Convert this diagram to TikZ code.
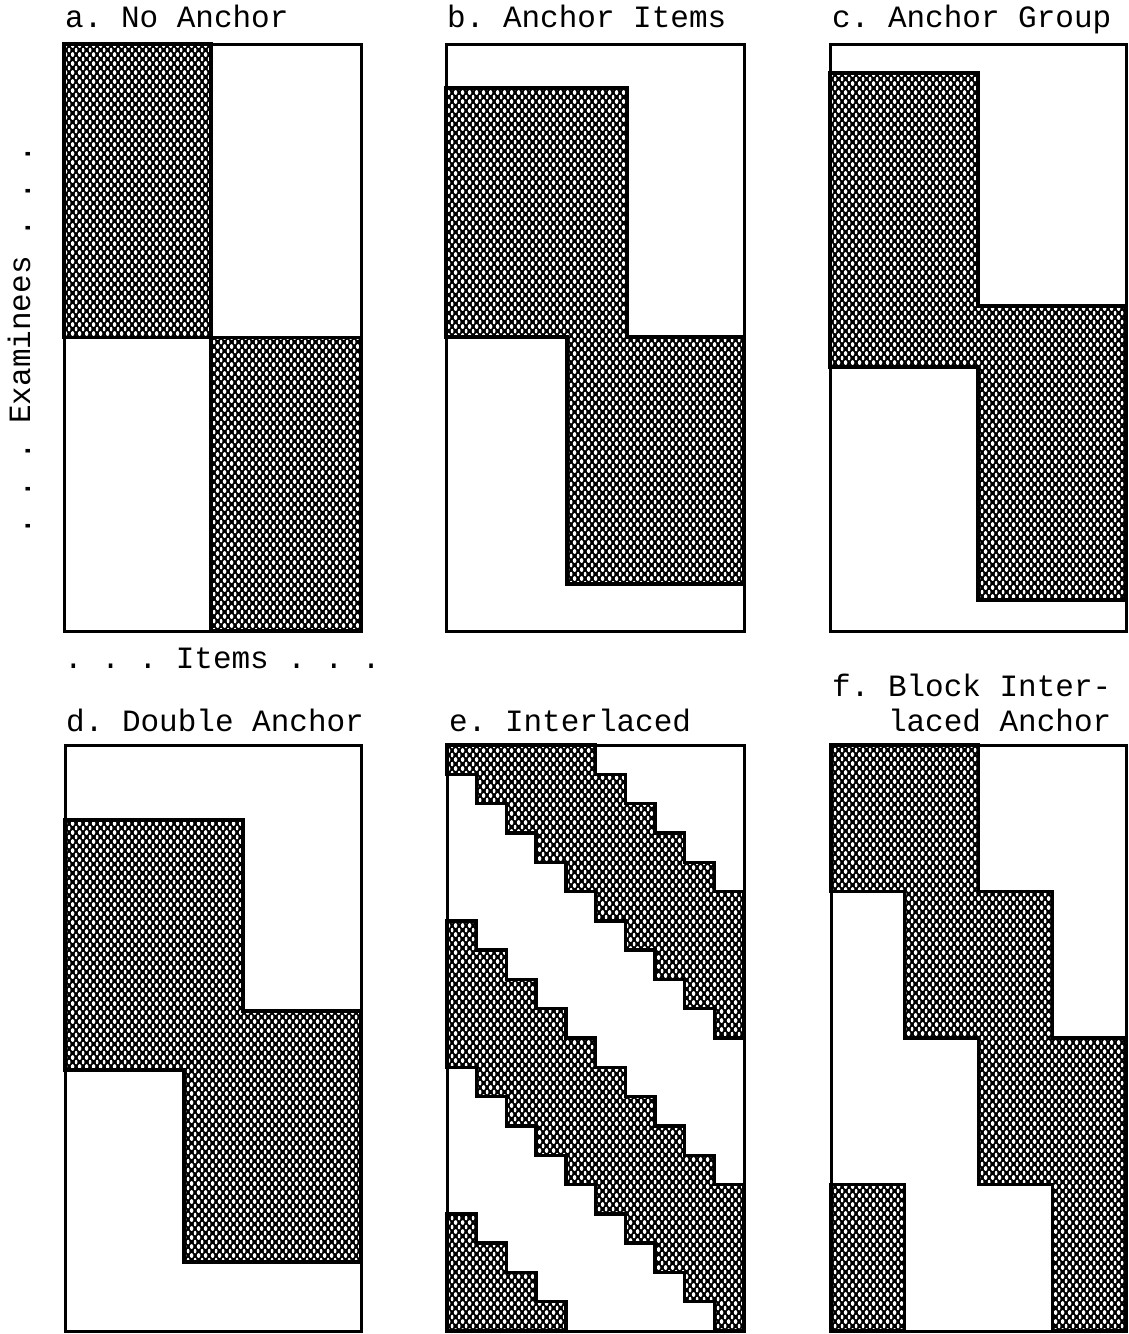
\documentclass[tikz,border=0pt]{standalone}
\usepackage{fontspec}
\newfontfamily\plotfont{Liberation Mono}
\usetikzlibrary{patterns}

\pgfdeclarepatterninherentlycolored{mesh}{\pgfpointorigin}{\pgfpoint{6.6pt}{9.4pt}}{\pgfpoint{6.6pt}{9.4pt}}{%
  \pgfsetfillcolor{black}%
  \pgfpathrectangle{\pgfpointorigin}{\pgfpoint{6.6pt}{9.4pt}}%
  \pgfusepath{fill}%
  \pgfsetfillcolor{white}%
  \pgfpathellipse{\pgfpoint{3.3pt}{0pt}}{\pgfpoint{1.4pt}{0pt}}{\pgfpoint{0pt}{2.4pt}}%
  \pgfpathellipse{\pgfpoint{3.3pt}{9.4pt}}{\pgfpoint{1.4pt}{0pt}}{\pgfpoint{0pt}{2.4pt}}%
  \pgfpathellipse{\pgfpoint{0pt}{4.7pt}}{\pgfpoint{1.4pt}{0pt}}{\pgfpoint{0pt}{2.4pt}}%
  \pgfpathellipse{\pgfpoint{6.6pt}{4.7pt}}{\pgfpoint{1.4pt}{0pt}}{\pgfpoint{0pt}{2.4pt}}%
  \pgfusepath{fill}%
}

\tikzset{
  panel/.style={draw=black, line width=3pt, line join=miter},
  hatch/.style={pattern=mesh, draw=black, line width=3.4pt, line join=miter},
  lbl/.style={font={\plotfont\fontsize{31}{34}\selectfont\frenchspacing}, inner sep=0pt, text=black},
}

\begin{document}
\begin{tikzpicture}[x=1pt, y=-1pt]
\useasboundingbox[fill=white] (0,0) rectangle (1129,1334);

% ---- labels ----
\node[lbl, anchor=base west] (la) at (65,27) {a. No Anchor};
\node[lbl, anchor=base west] (lb) at (447,27) {b. Anchor Items};
\node[lbl, anchor=base west] (lc) at (832,27) {c. Anchor Group};
\node[lbl, anchor=base west] (litems) at (64,668) {. . . Items . . .};
\node[lbl, anchor=center, rotate=90] (lexam) at (19,340) {. . . Examinees . . .};
\node[lbl, anchor=base west] (ld) at (66,731) {d. Double Anchor};
\node[lbl, anchor=base west] (le) at (449,731) {e. Interlaced};
\node[lbl, anchor=base west] (lf1) at (832,696) {f. Block Inter-};
\node[lbl, anchor=base east] (lf2) at ([yshift=-35pt]lf1.base east) {laced Anchor};

% ---- a. No Anchor ----
\begin{scope}[shift={(64,44)}]
  \draw[hatch] (0,0) rectangle (147,293.5);
  \draw[hatch] (147,293.5) rectangle (297,587);
  \draw[panel] (0,0) rectangle (297,587);
\end{scope}

% ---- b. Anchor Items ----
\begin{scope}[shift={(446,44)}]
  \draw[hatch] (0,44) -- (181,44) -- (181,293) -- (298,293) -- (298,540)
     -- (121,540) -- (121,293) -- (0,293) -- cycle;
  \draw[panel] (0,0) rectangle (298,587);
\end{scope}

% ---- c. Anchor Group ----
\begin{scope}[shift={(830,44)}]
  \draw[hatch] (0,29) -- (148,29) -- (148,262) -- (296,262) -- (296,556)
     -- (148,556) -- (148,323) -- (0,323) -- cycle;
  \draw[panel] (0,0) rectangle (296,587);
\end{scope}

% ---- d. Double Anchor ----
\begin{scope}[shift={(65,745)}]
  \draw[hatch] (0,75) -- (178,75) -- (178,266) -- (296,266) -- (296,517)
     -- (119,517) -- (119,325) -- (0,325) -- cycle;
  \draw[panel] (0,0) rectangle (296,586);
\end{scope}

% ---- e. Interlaced ----
\begin{scope}[shift={(447,745)}, x=29.7pt, y=-29.3pt]
  \draw[hatch] (0,0) -- (5,0) -- (5,1) -- (6,1) -- (6,2) -- (7,2) -- (7,3) -- (8,3)
     -- (8,4) -- (9,4) -- (9,5) -- (10,5) -- (10,10) -- (9,10) -- (9,9) -- (8,9)
     -- (8,8) -- (7,8) -- (7,7) -- (6,7) -- (6,6) -- (5,6) -- (5,5) -- (4,5)
     -- (4,4) -- (3,4) -- (3,3) -- (2,3) -- (2,2) -- (1,2) -- (1,1) -- (0,1) -- cycle;
  \draw[hatch] (0,6) -- (1,6) -- (1,7) -- (2,7) -- (2,8) -- (3,8) -- (3,9) -- (4,9)
     -- (4,10) -- (5,10) -- (5,11) -- (6,11) -- (6,12) -- (7,12) -- (7,13) -- (8,13)
     -- (8,14) -- (9,14) -- (9,15) -- (10,15) -- (10,20) -- (9,20) -- (9,19) -- (8,19)
     -- (8,18) -- (7,18) -- (7,17) -- (6,17) -- (6,16) -- (5,16) -- (5,15) -- (4,15)
     -- (4,14) -- (3,14) -- (3,13) -- (2,13) -- (2,12) -- (1,12) -- (1,11) -- (0,11) -- cycle;
  \draw[hatch] (0,16) -- (1,16) -- (1,17) -- (2,17) -- (2,18) -- (3,18) -- (3,19)
     -- (4,19) -- (4,20) -- (0,20) -- cycle;
  \draw[panel] (0,0) rectangle (10,20);
\end{scope}

% ---- f. Block Interlaced Anchor ----
\begin{scope}[shift={(831,745)}, x=73.75pt, y=-146.5pt]
  \draw[hatch] (0,0) -- (2,0) -- (2,1) -- (3,1) -- (3,2) -- (4,2) -- (4,4) -- (3,4)
     -- (3,3) -- (2,3) -- (2,2) -- (1,2) -- (1,1) -- (0,1) -- cycle;
  \draw[hatch] (0,3) rectangle (1,4);
  \draw[panel] (0,0) rectangle (4,4);
\end{scope}
\end{tikzpicture}
\end{document}
